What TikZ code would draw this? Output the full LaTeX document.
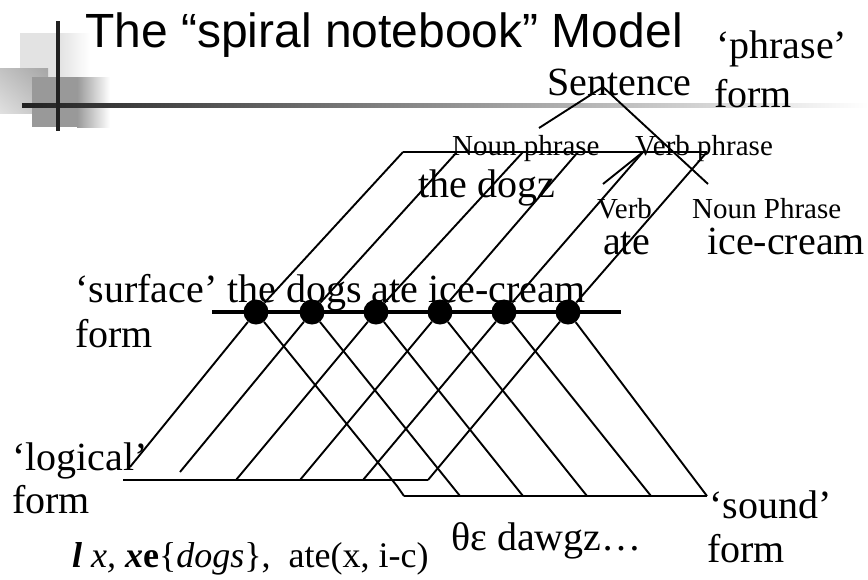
\documentclass[tikz,border=0pt]{standalone}
\usepackage{fontspec}
\setmainfont{Liberation Serif}
\newfontfamily\titlefont{Liberation Sans}
\usetikzlibrary{positioning,calc,shadings}

\begin{document}
\begin{tikzpicture}[
    x=1pt,y=-1pt,
    bead/.style={circle,fill=black,inner sep=0pt,minimum size=25pt},
    wire/.style={line width=1.9pt},
    bigtext/.style={anchor=base west,inner sep=0pt,font=\fontsize{40}{44}\selectfont},
    smalltext/.style={anchor=base west,inner sep=0pt,font=\fontsize{29}{32}\selectfont}
]
    \useasboundingbox (0,0) rectangle (868,579);

    % slide template
    \fill[black!11] (20,33) rectangle (60,77);
    \shade[left color=black!11,right color=white] (60,33) rectangle (90,77);
    \shade[upper right=black!35,lower left=black!12,upper left=black!24,lower right=black!24] (0,68) rectangle (48,113);
    \fill[black!40] (32,77) rectangle (77,127);
    \shade[left color=black!40,right color=white] (77,77) rectangle (110,127);
    \shade[left color=black!87,right color=white] (22,103) rectangle (868,107);
    \fill[black!87] (56,21) rectangle (60,131);

    \node[anchor=base west,inner sep=0pt,font=\titlefont\fontsize{48}{52}\selectfont] (title) at (85,47) {The “spiral notebook” Model};

    % the three forms
    \node[bigtext] (phr) at (716,58) {‘phrase’};
    \node[bigtext] (phrform) at (714,107) {form};
    \node[bigtext] (surf) at (75,302) {‘surface’ the dogs ate ice-cream};
    \node[bigtext] (surfform) at (75,347) {form};
    \node[bigtext] (logi) at (12,470) {‘logical’};
    \node[bigtext] (logiform) at (12,513) {form};
    \node[bigtext] (snd) at (709,518) {‘sound’};
    \node[bigtext] (sndform) at (707,562) {form};

    % phrase tree
    \node[bigtext] (sent) at (547,95) {Sentence};
    \node[smalltext] (np) at (452,155) {Noun phrase};
    \node[smalltext] (vp) at (635,155) {Verb phrase};
    \node[bigtext] (dogz) at (418,197) {the dogz};
    \node[smalltext] (verb) at (597,218) {Verb};
    \node[smalltext] (np2) at (692,218) {Noun Phrase};
    \node[bigtext] (ate) at (603,254) {ate};
    \node[bigtext] (icecream) at (707,254) {ice-cream};

    \node[anchor=base west,inner sep=0pt,font=\fontsize{36}{40}\selectfont] (lf) at (72,567)
        {\textbf{\textit{l}} \textit{x,} \textbf{\textit{x}}\textbf{e}\{\textit{dogs}\},\ \ ate(x, i-c)};
    \node[bigtext] (sf) at (451,550) {θε dawgz…};

    \coordinate (sent-top) at (603,87);
    \coordinate (np-top) at (539,128);
    \coordinate (np2-top) at (708,184);
    \coordinate (vp-foot) at (643,152);
    \coordinate (verb-top) at (603,184);
    \draw[wire] (sent-top) -- (np-top);
    \draw[wire] (sent-top) -- (np2-top);
    \draw[wire] (vp-foot) -- (verb-top);

    % surface string
    \coordinate (sl) at (212,312);
    \coordinate (sr) at (621,312);
    \draw[line width=4pt] (sl) -- (sr);
    \node[bead] (w1) at (256,312) {};
    \node[bead] (w2) at (312,312) {};
    \node[bead] (w3) at (376,312) {};
    \node[bead] (w4) at (440,312) {};
    \node[bead] (w5) at (504,312) {};
    \node[bead] (w6) at (568,312) {};

    % ends on the phrase, logical and sound lines
    \coordinate (p1) at (403,152);
    \coordinate (p2) at (457,152);
    \coordinate (p3) at (523,152);
    \coordinate (p4) at (578,152);
    \coordinate (p5) at (643,152);
    \coordinate (p6) at (707,152);
    \coordinate (l0) at (123,480);
    \coordinate (l1) at (130,467);
    \coordinate (l2) at (180,472);
    \coordinate (l3) at (236,480);
    \coordinate (l4) at (300,480);
    \coordinate (l5) at (363,480);
    \coordinate (l6) at (428,480);
    \coordinate (bend) at (397,486);
    \coordinate (s1) at (404,496);
    \coordinate (s2) at (460,496);
    \coordinate (s3) at (523,496);
    \coordinate (s4) at (587,496);
    \coordinate (s5) at (651,496);
    \coordinate (s6) at (707,496);

    \draw[wire] (p1) -- (p6);
    \draw[wire] (l0) -- (l6);
    \draw[wire] (s1) -- (s6);

    \draw[wire] (w1) -- (p1);
    \draw[wire] (w2) -- (p2);
    \draw[wire] (w3) -- (p3);
    \draw[wire] (w4) -- (p4);
    \draw[wire] (w5) -- (p5);
    \draw[wire] (w6) -- (p6);

    \draw[wire] (w1) -- (l1);
    \draw[wire] (w2) -- (l2);
    \draw[wire] (w3) -- (l3);
    \draw[wire] (w4) -- (l4);
    \draw[wire] (w5) -- (l5);
    \draw[wire] (w6) -- (l6);

    \draw[wire] (w1) -- (bend) -- (s1);
    \draw[wire] (w2) -- (s2);
    \draw[wire] (w3) -- (s3);
    \draw[wire] (w4) -- (s4);
    \draw[wire] (w5) -- (s5);
    \draw[wire] (w6) -- (s6);
\end{tikzpicture}
\end{document}
